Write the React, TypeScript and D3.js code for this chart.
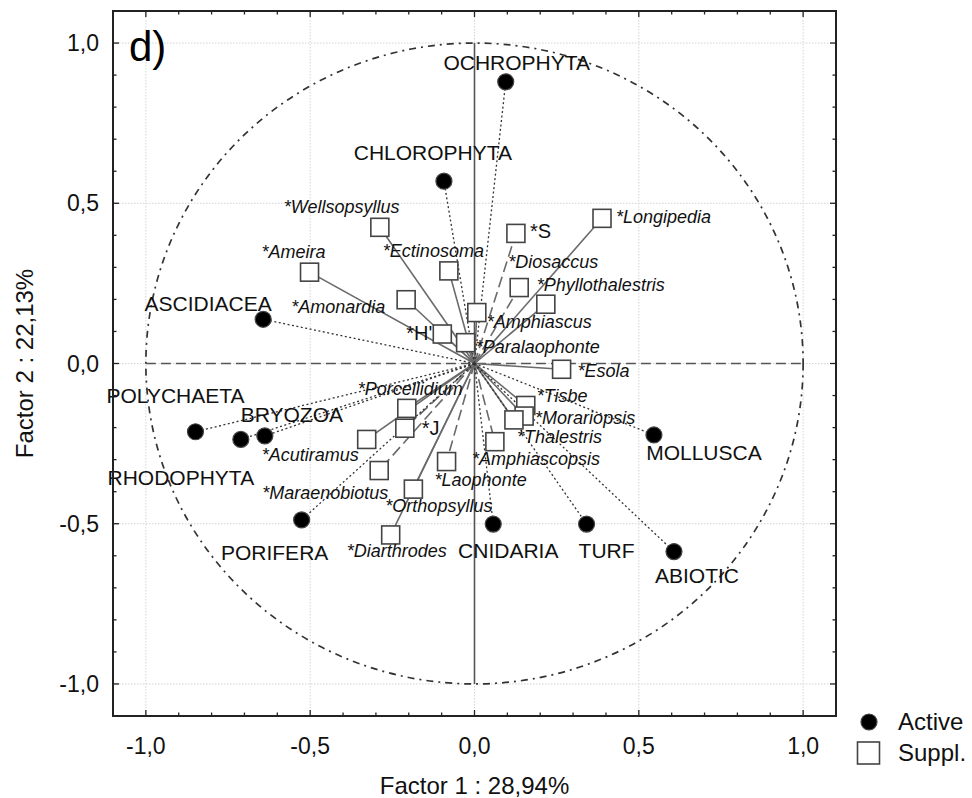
import React from "react";
import * as d3 from "d3";

// Active variables (factor coordinates)
const activeNames = ["OCHROPHYTA", "CHLOROPHYTA", "ASCIDIACEA", "POLYCHAETA", "RHODOPHYTA", "BRYOZOA", "PORIFERA", "CNIDARIA", "TURF", "ABIOTIC", "MOLLUSCA"];
const activeF1 = [0.095, -0.093, -0.643, -0.849, -0.711, -0.638, -0.526, 0.057, 0.341, 0.607, 0.546];
const activeF2 = [0.879, 0.569, 0.138, -0.213, -0.237, -0.226, -0.488, -0.501, -0.501, -0.587, -0.223];

// Supplementary variables (factor coordinates)
const supplNames = ["*Wellsopsyllus", "*Ameira", "*Ectinosoma", "*Amonardia", "*H'", "*Paralaophonte", "*Amphiascus", "*S", "*Longipedia", "*Diosaccus", "*Phyllothalestris", "*Esola", "*Tisbe", "*Morariopsis", "*Thalestris", "*Amphiascopsis", "*Laophonte", "*Orthopsyllus", "*Diarthrodes", "*Maraenobiotus", "*Acutiramus", "*J", "*Porcellidium"];
const supplF1 = [-0.288, -0.502, -0.078, -0.208, -0.098, -0.027, 0.007, 0.126, 0.388, 0.136, 0.217, 0.265, 0.156, 0.151, 0.12, 0.062, -0.085, -0.186, -0.255, -0.29, -0.328, -0.212, -0.206];
const supplF2 = [0.425, 0.285, 0.289, 0.199, 0.092, 0.065, 0.159, 0.406, 0.453, 0.237, 0.185, -0.018, -0.131, -0.164, -0.176, -0.244, -0.306, -0.392, -0.535, -0.334, -0.237, -0.202, -0.14];

const xTicks = [-1, -0.5, 0, 0.5, 1];
const yTicks = [-1, -0.5, 0, 0.5, 1];
const xTitle = "Factor 1 : 28,94%";
const yTitle = "Factor 2 : 22,13%";
const panelTag = "d)";
const legendLabels = ["Active", "Suppl."];

// Label placement (pixel offsets from each marker)
const activeLabelOffsets: [number, number][] = [
  [11, -12], [-11, -21], [-55, -8], [-20, -29], [-60, 46], [27, -14],
  [-27, 40], [15, 34], [20, 34], [23, 31], [50, 25],
];
const supplLabelOffsets: [number, number][] = [
  [-96, -14], [-48, -14], [-66, -14], [-115, 13], [-10, 6], [10, 10], [10, 15],
  [14, 5], [14, 5], [-11, -20], [-9, -13], [16, 8], [11, -3], [11, 8], [3, 23],
  [-23, 23], [-12, 24], [-28, 23], [-44, 22], [-117, 28], [-105, 22], [17, 7], [-49, -13],
];
const dashedSuppl = new Set(["*S", "*Diosaccus", "*Amphiascopsis", "*Laophonte", "*Maraenobiotus", "*J"]);
const uprightSuppl = new Set(["*H'", "*S", "*J"]);
const endAnchoredSuppl = new Set(["*H'"]);

const W = 972;
const H = 798;
const left = 113;
const right = 836;
const top = 11;
const bottom = 716;
const FONT = "'Liberation Sans', Arial, sans-serif";

const fmt = (v: number) => d3.format(".1f")(v).replace(".", ",").replace("−", "-");

export default function App() {
  const x = d3.scaleLinear().domain([-1.1, 1.1]).range([left, right]);
  const y = d3.scaleLinear().domain([-1.1, 1.1]).range([bottom, top]);
  const minor = d3.range(-11, 12).map((i) => i / 10);
  const x0 = x(0);
  const y0 = y(0);
  const rx = x(1) - x(0);
  const ry = y(0) - y(1);
  const sq = 18;

  return (
    <svg width={W} height={H} style={{ position: "absolute", left: 0, top: 0, background: "#fff" }} fontFamily={FONT}>
      {/* grid */}
      {xTicks.map((t) => (
        <line key={"gx" + t} x1={x(t)} x2={x(t)} y1={top} y2={bottom} stroke="#d4d4d4" strokeWidth={1} strokeDasharray="1.5,1.5" />
      ))}
      {yTicks.map((t) => (
        <line key={"gy" + t} x1={left} x2={right} y1={y(t)} y2={y(t)} stroke="#d4d4d4" strokeWidth={1} strokeDasharray="1.5,1.5" />
      ))}

      {/* unit circle */}
      <ellipse cx={x0} cy={y0} rx={rx} ry={ry} fill="none" stroke="#333" strokeWidth={1.7} strokeDasharray="7,5,2,5" />

      {/* centre axes */}
      <line x1={x0} x2={x0} y1={y(1)} y2={y(-1)} stroke="#555" strokeWidth={1.6} />
      <line x1={x(-1)} x2={x(1)} y1={y0} y2={y0} stroke="#555" strokeWidth={1.4} strokeDasharray="10,5" />

      {/* supplementary vectors */}
      {supplNames.map((n, i) => (
        <line key={"sl" + n} x1={x0} y1={y0} x2={x(supplF1[i])} y2={y(supplF2[i])} stroke="#6a6a6a" strokeWidth={1.6}
          strokeDasharray={dashedSuppl.has(n) ? "11,5" : undefined} />
      ))}
      {/* active vectors */}
      {activeNames.map((n, i) => (
        <line key={"al" + n} x1={x0} y1={y0} x2={x(activeF1[i])} y2={y(activeF2[i])} stroke="#333" strokeWidth={1.3} strokeDasharray="2,2.5" />
      ))}

      {/* supplementary markers */}
      {supplNames.map((n, i) => (
        <rect key={"sr" + n} x={x(supplF1[i]) - sq / 2} y={y(supplF2[i]) - sq / 2} width={sq} height={sq} fill="#fff" stroke="#444" strokeWidth={1.6} />
      ))}
      {/* active markers */}
      {activeNames.map((n, i) => (
        <circle key={"ac" + n} cx={x(activeF1[i])} cy={y(activeF2[i])} r={8} fill="#000" stroke="#444" strokeWidth={1.2} />
      ))}

      {/* supplementary labels */}
      {supplNames.map((n, i) => (
        <text key={"st" + n} x={x(supplF1[i]) + supplLabelOffsets[i][0]} y={y(supplF2[i]) + supplLabelOffsets[i][1]}
          fontSize={uprightSuppl.has(n) ? 20 : 18} fontStyle={uprightSuppl.has(n) ? "normal" : "italic"}
          textAnchor={endAnchoredSuppl.has(n) ? "end" : "start"} fill="#111">
          {n}
        </text>
      ))}
      {/* active labels */}
      {activeNames.map((n, i) => (
        <text key={"at" + n} x={x(activeF1[i]) + activeLabelOffsets[i][0]} y={y(activeF2[i]) + activeLabelOffsets[i][1]}
          fontSize={21} textAnchor="middle" fill="#111">
          {n}
        </text>
      ))}

      {/* frame */}
      <rect x={left} y={top} width={right - left} height={bottom - top} fill="none" stroke="#222" strokeWidth={2} />

      {/* ticks */}
      {minor.map((t) => {
        const major = Math.abs(Math.round(t * 10) % 5) === 0;
        const len = major ? 6 : 3.5;
        return (
          <g key={"t" + t}>
            <line x1={x(t)} x2={x(t)} y1={bottom} y2={bottom - len} stroke="#222" strokeWidth={1.3} />
            <line x1={x(t)} x2={x(t)} y1={top} y2={top + len} stroke="#222" strokeWidth={1.3} />
            <line x1={left} x2={left + len} y1={y(t)} y2={y(t)} stroke="#222" strokeWidth={1.3} />
            <line x1={right} x2={right - len} y1={y(t)} y2={y(t)} stroke="#222" strokeWidth={1.3} />
          </g>
        );
      })}

      {/* tick labels */}
      {xTicks.map((t) => (
        <text key={"xl" + t} x={x(t)} y={754} fontSize={23} textAnchor="middle" fill="#111">{fmt(t)}</text>
      ))}
      {yTicks.map((t) => (
        <text key={"yl" + t} x={99} y={y(t) + 8} fontSize={23} textAnchor="end" fill="#111">{fmt(t)}</text>
      ))}

      {/* axis titles */}
      <text x={x0} y={794} fontSize={24} textAnchor="middle" fill="#111">{xTitle}</text>
      <text transform={`translate(33,${y0}) rotate(-90)`} fontSize={24} textAnchor="middle" fill="#111">{yTitle}</text>

      {/* panel tag */}
      <text x={129} y={61} fontSize={42} fill="#000">{panelTag}</text>

      {/* legend */}
      <circle cx={869} cy={722} r={8} fill="#000" stroke="#444" strokeWidth={1.2} />
      <text x={898} y={730} fontSize={24} fill="#111">{legendLabels[0]}</text>
      <rect x={857.5} y={742} width={22} height={22} fill="#fff" stroke="#444" strokeWidth={1.6} />
      <text x={898} y={761} fontSize={24} fill="#111">{legendLabels[1]}</text>
    </svg>
  );
}
